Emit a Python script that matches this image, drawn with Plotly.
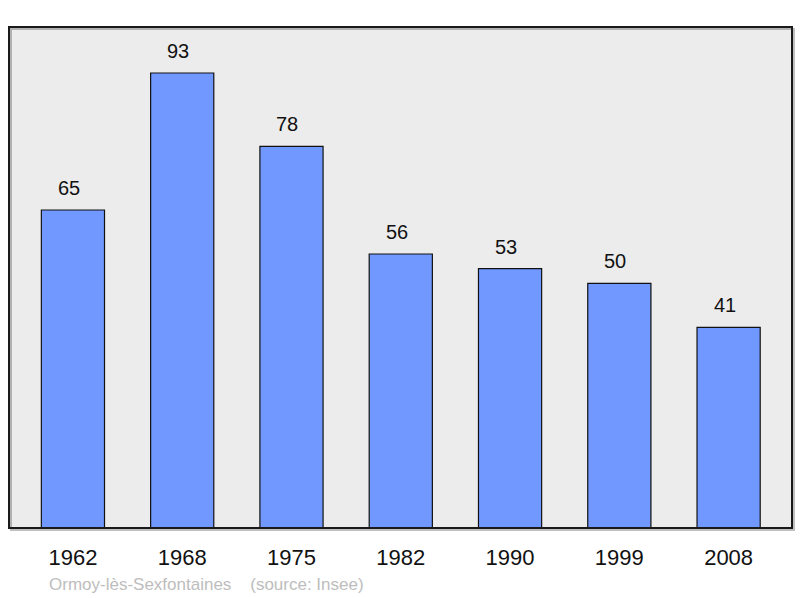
import plotly.graph_objects as go

years = ["1962", "1968", "1975", "1982", "1990", "1999", "2008"]
population = [65, 93, 78, 56, 53, 50, 41]
footer_place = "Ormoy-lès-Sexfontaines"
footer_source = "(source: Insee)"

W, H = 800, 598
ML, MR, MT, MB = 9, 8, 27, 70
PW = W - ML - MR
PH = H - MT - MB

fig = go.Figure()
fig.add_trace(go.Bar(
    x=list(range(len(years))), y=population,
    width=0.578,
    marker=dict(color="#7098ff", line=dict(color="#111", width=1.2)),
    hoverinfo="skip",
))

for i, v in enumerate(population):
    fig.add_annotation(x=i, y=v, text=str(v), showarrow=False,
                       yanchor="bottom", yshift=9, xshift=-4,
                       font=dict(family="Liberation Sans, Arial", size=20, color="#111"))

# shadow + border of plot frame
fig.add_shape(type="rect", xref="paper", yref="paper",
              x0=2/PW, x1=1+2/PW, y0=-2/PH, y1=1-2/PH,
              line=dict(color="rgba(0,0,0,0.25)", width=2), layer="below")
fig.add_shape(type="rect", xref="paper", yref="paper",
              x0=0, x1=1, y0=0, y1=1,
              line=dict(color="#1a1a1a", width=2), layer="above")

fig.add_annotation(xref="paper", yref="paper",
                   x=(47 - ML) / PW, y=-(584 - MT - PH) / PH,
                   xanchor="left", yanchor="middle", showarrow=False,
                   text=footer_place + "\u00a0\u00a0\u00a0\u00a0" + footer_source,
                   font=dict(family="Liberation Sans, Arial", size=17, color="#bdbdbd"))

fig.update_layout(
    width=W, height=H,
    margin=dict(l=ML, r=MR, t=MT, b=MB),
    paper_bgcolor="white", plot_bgcolor="#ececec",
    showlegend=False, bargap=0.4,
    xaxis=dict(range=[-0.585, 6.58], tickmode="array",
               tickvals=list(range(len(years))), ticktext=years,
               showgrid=False, zeroline=False, showline=False,
               ticks="outside", ticklen=10, tickcolor="rgba(0,0,0,0)",
               tickfont=dict(family="Liberation Sans, Arial", size=22, color="#111")),
    yaxis=dict(range=[0, 102.4], showgrid=False, zeroline=False,
               showline=False, showticklabels=False, ticks=""),
)

fig.write_html("out.html", config={"displayModeBar": False},
               post_script="document.body.style.margin='0';")
